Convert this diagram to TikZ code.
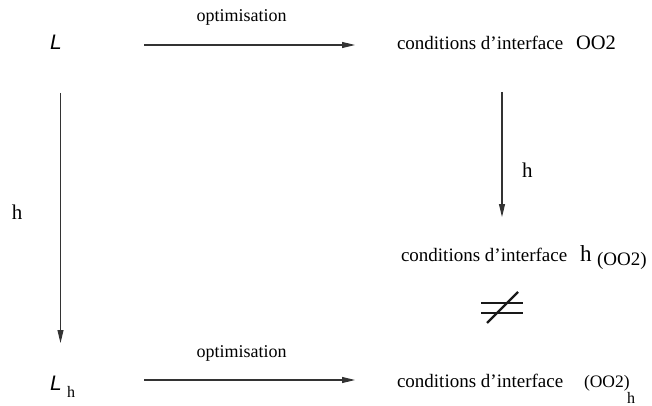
\documentclass[tikz,border=0pt]{standalone}
\usepackage{fontspec}
\setmainfont{Liberation Serif}
\newfontfamily\lsans{Liberation Sans}
\usetikzlibrary{arrows.meta}
\newcommand{\fsz}[1]{\fontsize{#1}{#1}\selectfont}
\begin{document}
\begin{tikzpicture}[x=1pt,y=-1pt,
  lbl/.style={anchor=base west, inner sep=0pt, outer sep=0pt},
  cond/.style={lbl, font=\fsz{19}},
  opt/.style={anchor=base, inner sep=0pt, outer sep=0pt, font=\fsz{18}},
  bigL/.style={lbl, font=\lsans\itshape\fsz{21}},
  arr/.style={draw=black!80, line width=1.1pt, -{Triangle[length=13pt,width=6pt]}},
  neqbar/.style={draw=black!90, line width=2.6pt}]
\useasboundingbox (0,0) rectangle (652,406);

% left column
\node[bigL] (L) at (50,50) {L};
\node[bigL] (Lh) at (50,390) {L};
\node[lbl, font=\fsz{16}] (Lhs) at (67,397) {h};
\node[lbl, font=\fsz{21}] (hl) at (12,219) {h};

% optimisation labels
\node[opt] (o1) at (241.5,22) {optimisation};
\node[opt] (o2) at (241.5,357) {optimisation};

% right column
\node[cond] (c1) at (397,50) {conditions d’interface};
\node[lbl, font=\fsz{20.5}] (c1o) at (576,50) {OO2};

\node[cond] (c2) at (401,261) {conditions d’interface};
\node[lbl, font=\fsz{23}] (c2h) at (580,261) {h};
\node[lbl, font=\fsz{19}] (c2o) at (597,265) {(OO2)};

\node[cond] (c3) at (397,387) {conditions d’interface};
\node[lbl, font=\fsz{17.5}] (c3o) at (584,387) {(OO2)};
\node[lbl, font=\fsz{16}] (c3h) at (627,403) {h};

\node[lbl, font=\fsz{21}] (hr) at (522,177) {h};

% connector ends
\coordinate (t1) at (144,45);
\coordinate (t2) at (355,45);
\coordinate (b1) at (144,380);
\coordinate (b2) at (355,380);
\coordinate (l1) at (60.5,93);
\coordinate (l2) at (60.5,343);
\coordinate (r1) at (502,92);
\coordinate (r2) at (502,217);

\draw[arr] (t1) -- (t2);
\draw[arr] (b1) -- (b2);
\draw[arr] (l1) -- (l2);
\draw[arr] (r1) -- (r2);

% not-equal sign
\draw[neqbar] (481,303) -- (523,303);
\draw[neqbar] (481,313) -- (523,313);
\draw[draw=black!90, line width=2.2pt] (487,323) -- (518,292);
\end{tikzpicture}
\end{document}
